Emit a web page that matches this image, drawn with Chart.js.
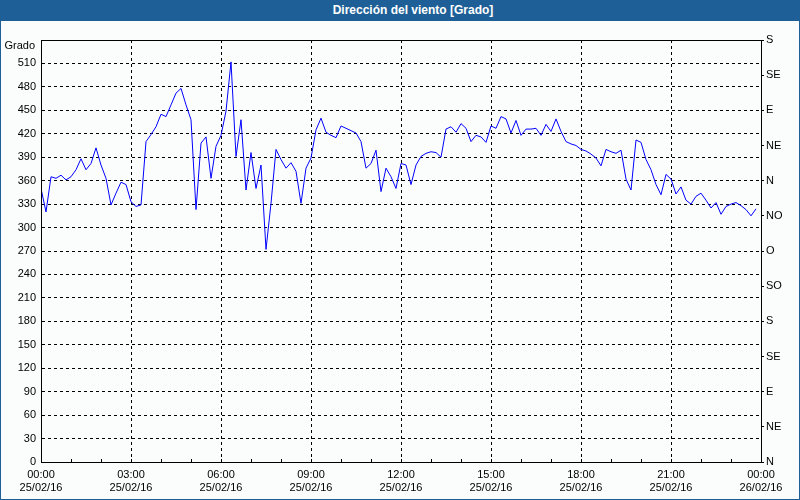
<!DOCTYPE html>
<html>
<head>
<meta charset="utf-8">
<script src="https://cdn.jsdelivr.net/npm/chart.js@4/dist/chart.umd.min.js"></script>
<style>
  html, body { margin: 0; padding: 0; background: #fbfdfd; }
  #wrap { position: relative; width: 800px; height: 500px; overflow: hidden; background: #fbfdfd; }
  #c { position: absolute; left: 0; top: 0; }
  #title { position: absolute; left: 0; top: 0; width: 774px; padding-left: 26px; height: 21px; background: #1e5f97;
           color: #fff; font: bold 12px "Liberation Sans", Arial, sans-serif; line-height: 20px; text-align: center; }
  #frame { position: absolute; left: 0; top: 0; width: 798px; height: 498px; border: 1px solid #1e5f97; pointer-events: none; }
  #ylab { position: absolute; right: 765px; top: 39px; font: 11px "Liberation Sans", Arial, sans-serif; color: #000; }
</style>
</head>
<body>
<div id="wrap">
  <canvas id="c" width="800" height="500"></canvas>
  <div id="title">Dirección del viento [Grado]</div>
  <div id="ylab">Grado</div>
  <div id="frame"></div>
</div>
<script>
// ---- data ----
const sampleMinutes = 10; // one reading every 10 minutes, starting 25/02/16 00:00
const directionDeg = [
  350,320,365,363,367,361,365,374,388,374,382,402,380,363,329,344,358,355,333,327,
  329,410,419,429,445,442,457,472,478,457,438,323,408,416,363,404,418,449,512,391,
  438,348,396,350,380,272,331,400,387,376,383,372,331,376,389,425,440,422,418,415,
  430,427,424,421,410,376,382,399,346,376,365,350,382,380,355,380,391,395,397,396,
  390,426,429,422,433,427,410,418,416,409,430,427,442,439,421,437,418,426,426,427,
  418,432,423,439,423,410,407,405,400,398,394,389,379,400,397,395,399,362,348,412,
  409,387,374,355,342,368,362,343,352,335,330,340,344,335,325,332,317,327,330,332,
  328,323,315,324
];
const timeLabels = ['00:00','03:00','06:00','09:00','12:00','15:00','18:00','21:00','00:00'];
const dateLabels = ['25/02/16','25/02/16','25/02/16','25/02/16','25/02/16','25/02/16','25/02/16','25/02/16','26/02/16'];
const compassLabels = ['N','NE','E','SE','S','SO','O','NO','N','NE','E','SE','S'];

const FONT = { family: '"Liberation Sans", Arial, sans-serif', size: 11 };

const points = directionDeg.map((v, i) => ({ x: i * sampleMinutes / 60, y: v }));

const framePlugin = {
  id: 'framePlugin',
  afterDraw(chart) {
    const { ctx, chartArea: a, scales } = chart;
    ctx.save();
    ctx.strokeStyle = '#000';
    ctx.lineWidth = 1;
    ctx.setLineDash([]);
    // minor hourly ticks inside bottom axis
    ctx.beginPath();
    for (let h = 1; h < 24; h++) {
      const px = Math.round(scales.x.getPixelForValue(h)) + 0.5;
      ctx.moveTo(px, a.bottom);
      ctx.lineTo(px, a.bottom - 3);
    }
    ctx.stroke();
    ctx.strokeRect(Math.round(a.left) + 0.5, Math.round(a.top) + 0.5,
                   Math.round(a.right - a.left), Math.round(a.bottom - a.top));
    ctx.restore();
  }
};

new Chart(document.getElementById('c'), {
  type: 'line',
  data: {
    datasets: [{
      data: points,
      borderColor: '#0000ff',
      borderWidth: 1,
      pointRadius: 0,
      tension: 0,
      fill: false,
      yAxisID: 'y'
    }]
  },
  options: {
    responsive: false,
    animation: false,
    devicePixelRatio: 1,
    layout: { padding: { top: 40, left: 0, right: 0, bottom: 0 } },
    plugins: { legend: { display: false }, tooltip: { enabled: false }, title: { display: false } },
    scales: {
      x: {
        type: 'linear',
        min: 0, max: 24,
        afterFit(s) { s.height = 38; },
        grid: {
          drawTicks: false,
          color: (c) => (c.tick && (c.tick.value === 0 || c.tick.value === 24)) ? 'rgba(0,0,0,0)' : '#000',
          lineWidth: 1
        },
        border: { dash: [3, 3], color: '#000' },
        ticks: {
          stepSize: 3,
          autoSkip: false,
          maxRotation: 0,
          padding: 6,
          color: '#000',
          font: FONT,
          callback: (v) => { const k = Math.round(v / 3); return [timeLabels[k], dateLabels[k]]; }
        }
      },
      y: {
        position: 'left',
        min: 0, max: 540,
        afterFit(s) { s.width = 41; },
        grid: {
          drawTicks: false,
          color: (c) => (c.tick && (c.tick.value === 0 || c.tick.value === 540)) ? 'rgba(0,0,0,0)' : '#000',
          lineWidth: 1
        },
        border: { dash: [3, 3], color: '#000' },
        ticks: {
          stepSize: 30,
          padding: 5,
          color: '#000',
          font: FONT,
          callback: (v) => v === 540 ? '' : String(v)
        }
      },
      y2: {
        position: 'right',
        min: 0, max: 540,
        afterFit(s) { s.width = 39; },
        grid: { drawOnChartArea: false, drawTicks: true, tickLength: 3, color: '#000' },
        border: { color: '#000' },
        ticks: {
          stepSize: 45,
          padding: 2,
          color: '#000',
          font: FONT,
          callback: (v) => compassLabels[Math.round(v / 45)]
        }
      }
    }
  },
  plugins: [framePlugin]
});
</script>
</body>
</html>
